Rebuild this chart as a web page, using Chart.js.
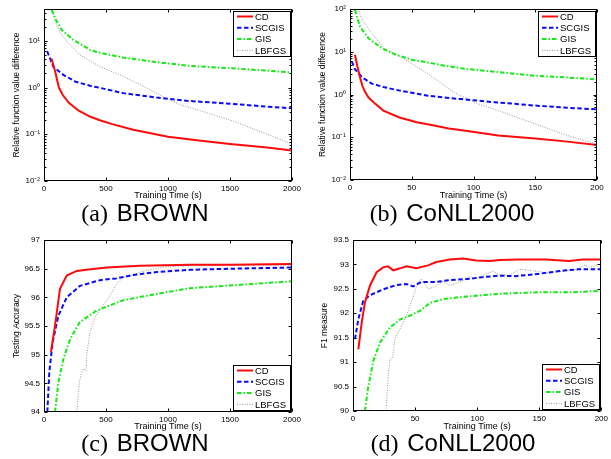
<!DOCTYPE html>
<html>
<head>
<meta charset="utf-8">
<script src="https://cdn.jsdelivr.net/npm/chart.js@4.4.1/dist/chart.umd.min.js"></script>
<style>
  body { margin: 0; background: #fff; }
  #page { position: relative; width: 611px; height: 459px; overflow: hidden; background: #fff; }
  canvas { position: absolute; }
  .cap { position: absolute; text-align: center; white-space: nowrap; color: #000;
         font-family: "Liberation Sans", Arial, sans-serif; font-size: 24px; line-height: 24px; }
  .cap span { font-family: "Liberation Serif", "Times New Roman", serif; margin-right: 2px; }
</style>
</head>
<body>
<div id="page">
  <canvas id="chart-a" width="305" height="201" style="left:0px;top:0px"></canvas>
  <canvas id="chart-b" width="306" height="201" style="left:305px;top:0px"></canvas>
  <canvas id="chart-c" width="305" height="207" style="left:0px;top:225px"></canvas>
  <canvas id="chart-d" width="306" height="207" style="left:305px;top:225px"></canvas>
  <div class="cap" style="left:0px;top:201px;width:290px"><span>(a)</span> BROWN</div>
  <div class="cap" style="left:305px;top:201px;width:294px"><span>(b)</span> CoNLL2000</div>
  <div class="cap" style="left:0px;top:431px;width:290px"><span>(c)</span> BROWN</div>
  <div class="cap" style="left:305px;top:431px;width:296px"><span>(d)</span> CoNLL2000</div>
</div>
<script>
const seriesNames = ['CD', 'SCGIS', 'GIS', 'LBFGS'];

// tick values
const timeTicksBrown = [0, 500, 1000, 1500, 2000];
const timeTicksConll = [0, 50, 100, 150, 200];
const logTicksBrown = [0.01, 0.1, 1, 10];
const logTicksConll = [0.01, 0.1, 1, 10, 100];
const accTicks = [94, 94.5, 95, 95.5, 96, 96.5, 97];
const f1Ticks = [90, 90.5, 91, 91.5, 92, 92.5, 93, 93.5];

// (a) BROWN, relative function value difference
const brownCdT = [60, 90, 120, 150, 200, 280, 370, 450, 550, 720, 900, 1000, 1250, 1500, 1800, 2000];
const brownCdV = [4.2, 2.2, 1.0, 0.7, 0.47, 0.32, 0.24, 0.2, 0.165, 0.125, 0.1, 0.089, 0.074, 0.062, 0.052, 0.045];
const brownScgisT = [25, 75, 156, 250, 371, 455, 640, 909, 1150, 1400, 1650, 1800, 2000];
const brownScgisV = [6.0, 2.8, 1.87, 1.35, 1.09, 0.98, 0.76, 0.61, 0.52, 0.47, 0.42, 0.39, 0.36];
const brownGisT = [62, 100, 143, 237, 371, 455, 637, 909, 1177, 1500, 1800, 2000];
const brownGisV = [46, 27, 17, 10.5, 6.4, 5.5, 4.4, 3.5, 2.9, 2.6, 2.3, 2.1];
const brownLbfgsT = [65, 89, 130, 183, 290, 452, 640, 828, 990, 1097, 1260, 1530, 1800, 2000];
const brownLbfgsV = [48, 26, 15, 9.7, 5.0, 2.8, 1.74, 0.98, 0.58, 0.43, 0.32, 0.19, 0.1, 0.062];

// (b) CoNLL2000, relative function value difference
const conllCdT = [4, 6, 8, 10, 12, 15, 20, 27, 40, 54, 67, 80, 95, 120, 150, 176, 200];
const conllCdV = [8.5, 4.5, 2.6, 1.6, 1.17, 0.85, 0.62, 0.42, 0.29, 0.225, 0.19, 0.16, 0.14, 0.11, 0.093, 0.079, 0.066];
const conllScgisT = [1.5, 4, 6.7, 10, 17.6, 27, 36.5, 50, 63, 78, 90, 105, 117, 135, 150, 176, 200];
const conllScgisV = [5.9, 3.9, 3.2, 2.5, 1.8, 1.5, 1.3, 1.1, 0.94, 0.84, 0.78, 0.71, 0.66, 0.6, 0.55, 0.49, 0.45];
const conllGisT = [4, 8, 15, 26, 36.5, 50, 63, 77, 90, 117, 150, 176, 200];
const conllGisV = [96, 39, 20.6, 12, 8.7, 6.5, 5.6, 4.7, 4.1, 3.4, 2.75, 2.5, 2.25];
const conllLbfgsT = [6.5, 10, 17.6, 28, 40, 50, 60, 70, 81, 88, 95, 104, 122, 149, 176, 200];
const conllLbfgsV = [100, 55, 27, 12, 7.8, 5.3, 3.5, 2.2, 1.3, 0.98, 0.8, 0.6, 0.4, 0.21, 0.11, 0.069];

// (c) BROWN, testing accuracy
const accCdT = [56, 89, 129, 183, 264, 340, 506, 774, 1177, 1500, 2000];
const accCdV = [95.05, 95.51, 96.15, 96.38, 96.46, 96.48, 96.52, 96.55, 96.57, 96.57, 96.58];
const accScgisT = [27, 43, 70, 116, 183, 290, 452, 583, 718, 909, 1177, 1524, 2000];
const accScgisV = [94.0, 94.7, 95.22, 95.68, 96.0, 96.2, 96.3, 96.33, 96.39, 96.44, 96.48, 96.5, 96.52];
const accGisT = [89, 116, 156, 210, 290, 425, 640, 909, 1177, 1524, 1793, 2000];
const accGisV = [94.0, 94.52, 94.92, 95.27, 95.57, 95.77, 95.95, 96.06, 96.16, 96.21, 96.25, 96.28];
const accLbfgsT = [264, 285, 304, 320, 339, 344, 371, 411, 465, 532, 586, 640, 694, 774, 962, 1177, 1524, 2000];
const accLbfgsV = [94.0, 94.52, 94.69, 94.76, 94.72, 94.98, 95.39, 95.65, 95.83, 96.03, 96.24, 96.35, 96.37, 96.44, 96.53, 96.55, 96.56, 96.56];

// (d) CoNLL2000, F1 measure
const f1CdT = [4.3, 7, 9.6, 13.7, 19, 24.3, 28.3, 32.4, 38, 43, 51, 60.5, 67, 78, 88.6, 99.3, 110, 118, 134, 155.5, 174, 185, 200];
const f1CdV = [91.26, 91.81, 92.22, 92.57, 92.84, 92.94, 92.96, 92.88, 92.92, 92.96, 92.92, 92.98, 93.05, 93.1, 93.12, 93.08, 93.07, 93.09, 93.1, 93.1, 93.07, 93.1, 93.1];
const f1ScgisT = [1.6, 4.3, 8.3, 13.7, 24.3, 35, 43, 48.4, 55, 67, 78, 91.3, 104.6, 117, 131, 150, 171.6, 182, 200];
const f1ScgisV = [91.47, 91.88, 92.26, 92.37, 92.49, 92.58, 92.6, 92.55, 92.64, 92.64, 92.68, 92.7, 92.74, 92.77, 92.76, 92.81, 92.88, 92.9, 92.9];
const f1GisT = [9.6, 12.3, 16.3, 21.7, 29.7, 37.7, 45.8, 53.8, 61.8, 72.5, 86, 99.3, 118, 150, 175, 200];
const f1GisV = [90.0, 90.5, 91.02, 91.4, 91.71, 91.87, 91.95, 92.05, 92.21, 92.29, 92.33, 92.36, 92.4, 92.43, 92.43, 92.46];
const f1LbfgsT = [26.5, 28.4, 29.7, 31.9, 33.7, 37.7, 43, 48.4, 52.4, 55, 60.5, 64.5, 72.5, 78, 86, 94, 99, 107, 112.7, 118, 126, 134, 142, 155.5, 166, 179.6, 186, 193, 200];
const f1LbfgsV = [90.0, 90.72, 91.06, 91.09, 91.47, 91.67, 91.95, 92.33, 92.64, 92.7, 92.5, 92.53, 92.65, 92.57, 92.64, 92.74, 92.71, 92.8, 92.86, 92.79, 92.78, 92.9, 92.88, 92.83, 92.85, 92.9, 92.98, 92.95, 93.02];

const fontFamily = '"Liberation Sans", Arial, Helvetica, sans-serif';
const lineStyles = [
    { color: 'rgb(255, 10, 10)', width: 2, dash: [] },
    { color: 'rgb(10, 10, 255)', width: 2, dash: [4.5, 2.5] },
    { color: 'rgb(20, 235, 20)', width: 2, dash: [4.5, 2, 1.5, 2] },
    { color: 'rgb(150, 150, 150)', width: 1, dash: [1, 1.5] },
];

const supers = { '-': '\u207B', '0': '\u2070', '1': '\u00B9', '2': '\u00B2' };
function logLabel(v) {
    const e = String(Math.round(Math.log10(v)));
    return '10' + e.split('').map(c => supers[c]).join('');
}

function toPoints(xs, ys) {
    return xs.map((x, i) => ({ x: x, y: ys[i] }));
}

// box round the axes, inward ticks like matlab, and the legend box
const framePlugin = {
    id: 'frame',
    afterDraw(chart) {
        const ctx = chart.ctx;
        const a = chart.chartArea;
        const xs = chart.scales.x;
        const ys = chart.scales.y;
        const L = Math.round(a.left) + 0.5;
        const R = Math.round(a.right) - 0.5;
        const T = Math.round(a.top) + 0.5;
        const B = Math.round(a.bottom) - 0.5;
        ctx.save();
        ctx.strokeStyle = '#000';
        ctx.lineWidth = 1;
        ctx.setLineDash([]);
        ctx.beginPath();
        xs.ticks.forEach(t => {
            const p = Math.round(xs.getPixelForValue(t.value)) + 0.5;
            ctx.moveTo(p, B); ctx.lineTo(p, B - 3);
            ctx.moveTo(p, T); ctx.lineTo(p, T + 3);
        });
        ys.ticks.forEach(t => {
            const p = Math.round(ys.getPixelForValue(t.value)) + 0.5;
            ctx.moveTo(L, p); ctx.lineTo(L + 3, p);
            ctx.moveTo(R, p); ctx.lineTo(R - 3, p);
        });
        if (ys.type === 'logarithmic') {
            for (let d = 0.01; d < ys.max; d *= 10) {
                for (let k = 2; k < 10; k++) {
                    const v = d * k;
                    if (v > ys.max) break;
                    const p = Math.round(ys.getPixelForValue(v)) + 0.5;
                    ctx.moveTo(L, p); ctx.lineTo(L + 2, p);
                    ctx.moveTo(R, p); ctx.lineTo(R - 2, p);
                }
            }
        }
        ctx.stroke();
        ctx.strokeRect(L, T, R - L, B - T);

        // legend
        const corner = chart.options.plugins.frame.corner;
        const w = 57, h = 45;
        const bx = Math.round(a.right) - 2 - w;
        const by = corner === 'tr' ? Math.round(a.top) + 2 : Math.round(a.bottom) - 2 - h;
        ctx.fillStyle = '#fff';
        ctx.fillRect(bx, by, w, h);
        ctx.strokeRect(bx + 0.5, by + 0.5, w, h);
        ctx.font = '9.5px ' + fontFamily;
        ctx.textBaseline = 'middle';
        chart.data.datasets.forEach((ds, i) => {
            const y = by + 5.5 + i * 11.3;
            ctx.strokeStyle = ds.borderColor;
            ctx.lineWidth = ds.borderWidth;
            ctx.setLineDash(ds.borderDash);
            ctx.beginPath();
            ctx.moveTo(bx + 4, y);
            ctx.lineTo(bx + 20, y);
            ctx.stroke();
            ctx.fillStyle = '#000';
            ctx.fillText(ds.label, bx + 22, y + 0.5);
        });
        ctx.restore();
    }
};

function makePanel(id, cfg) {
    const datasets = cfg.series.map((s, i) => ({
        label: seriesNames[i],
        data: toPoints(s[0], s[1]),
        borderColor: lineStyles[i].color,
        borderWidth: lineStyles[i].width,
        borderDash: lineStyles[i].dash,
        pointRadius: 0,
        fill: false,
        tension: 0,
    }));
    const yOpts = {
        type: cfg.yType,
        min: cfg.yMin,
        max: cfg.yMax,
        grid: { display: false, drawTicks: false },
        border: { display: false },
        afterBuildTicks: s => { s.ticks = cfg.yTicks.map(v => ({ value: v })); },
        afterFit: s => { s.width = cfg.yWidth; },
        ticks: {
            padding: 4,
            color: '#000',
            font: { family: fontFamily, size: 8 },
            callback: v => cfg.yType === 'logarithmic' ? logLabel(v) : String(v),
        },
        title: {
            display: true,
            text: cfg.yTitle,
            padding: 0,
            color: '#000',
            font: { family: fontFamily, size: 8.5 },
        },
    };
    return new Chart(document.getElementById(id), {
        type: 'line',
        data: { datasets: datasets },
        options: {
            responsive: false,
            animation: false,
            devicePixelRatio: 1,
            layout: { padding: cfg.padding },
            plugins: {
                legend: { display: false },
                tooltip: { enabled: false },
                frame: { corner: cfg.legendCorner },
            },
            scales: {
                x: {
                    type: 'linear',
                    min: 0,
                    max: cfg.xTicks[cfg.xTicks.length - 1],
                    grid: { display: false, drawTicks: false },
                    border: { display: false },
                    afterBuildTicks: s => { s.ticks = cfg.xTicks.map(v => ({ value: v })); },
                    afterFit: s => { s.height = cfg.xHeight; },
                    ticks: {
                        padding: 3,
                        maxRotation: 0,
                        autoSkip: false,
                        color: '#000',
                        font: { family: fontFamily, size: 8 },
                        callback: v => String(v),
                    },
                    title: {
                        display: true,
                        text: 'Training Time (s)',
                        padding: 0,
                        color: '#000',
                        font: { family: fontFamily, size: 9 },
                    },
                },
                y: yOpts,
            },
        },
        plugins: [framePlugin],
    });
}

const chartA = makePanel('chart-a', {
    series: [[brownCdT, brownCdV], [brownScgisT, brownScgisV], [brownGisT, brownGisV], [brownLbfgsT, brownLbfgsV]],
    xTicks: timeTicksBrown,
    yType: 'logarithmic', yMin: 0.01, yMax: 48, yTicks: logTicksBrown,
    yTitle: 'Relative function value difference',
    padding: { left: 12, top: 9, right: 13, bottom: 0 },
    yWidth: 32, xHeight: 20, legendCorner: 'tr',
});

const chartB = makePanel('chart-b', {
    series: [[conllCdT, conllCdV], [conllScgisT, conllScgisV], [conllGisT, conllGisV], [conllLbfgsT, conllLbfgsV]],
    xTicks: timeTicksConll,
    yType: 'logarithmic', yMin: 0.01, yMax: 100, yTicks: logTicksConll,
    yTitle: 'Relative function value difference',
    padding: { left: 13, top: 9, right: 14, bottom: 0 },
    yWidth: 32, xHeight: 21, legendCorner: 'tr',
});

const chartC = makePanel('chart-c', {
    series: [[accCdT, accCdV], [accScgisT, accScgisV], [accGisT, accGisV], [accLbfgsT, accLbfgsV]],
    xTicks: timeTicksBrown,
    yType: 'linear', yMin: 94, yMax: 97, yTicks: accTicks,
    yTitle: 'Testing Accuracy',
    padding: { left: 12, top: 15, right: 13, bottom: 0 },
    yWidth: 32, xHeight: 20, legendCorner: 'br',
});

const chartD = makePanel('chart-d', {
    series: [[f1CdT, f1CdV], [f1ScgisT, f1ScgisV], [f1GisT, f1GisV], [f1LbfgsT, f1LbfgsV]],
    xTicks: timeTicksConll,
    yType: 'linear', yMin: 90, yMax: 93.5, yTicks: f1Ticks,
    yTitle: 'F1 measure',
    padding: { left: 15, top: 15, right: 9, bottom: 0 },
    yWidth: 33, xHeight: 21, legendCorner: 'br',
});
</script>
</body>
</html>
